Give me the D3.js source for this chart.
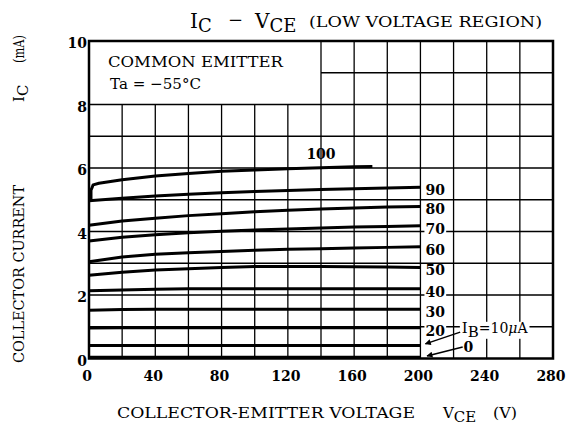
<!DOCTYPE html>
<html>
<head>
<meta charset="utf-8">
<script src="https://cdn.jsdelivr.net/npm/d3@7"></script>
<style>
  body { margin: 0; background: #fff; }
  text { font-family: "DejaVu Serif", serif; fill: #000; }
</style>
</head>
<body>
<svg id="chart"></svg>
<script>
const w = 576,
  h = 427,
  p = { left: 89, right: 23, top: 41, bottom: 68.5 };

// data
const vceSteps = [0, 20, 40, 60, 80, 100, 120, 140, 160, 180, 200];
const ib0 = [0.04, 0.04, 0.04, 0.04, 0.04, 0.04, 0.04, 0.04, 0.04, 0.04, 0.04];
const ib10 = [0.41, 0.41, 0.41, 0.41, 0.41, 0.41, 0.41, 0.41, 0.41, 0.41, 0.41];
const ib20 = [0.96, 0.97, 0.97, 0.97, 0.97, 0.97, 0.97, 0.97, 0.97, 0.97, 0.97];
const ib30 = [1.52, 1.54, 1.55, 1.55, 1.55, 1.55, 1.55, 1.55, 1.55, 1.55, 1.55];
const ib40 = [2.13, 2.16, 2.18, 2.2, 2.2, 2.2, 2.2, 2.2, 2.2, 2.2, 2.2];
const ib50 = [2.62, 2.72, 2.79, 2.83, 2.87, 2.9, 2.9, 2.9, 2.89, 2.88, 2.87];
const ib60 = [3.05, 3.2, 3.28, 3.33, 3.37, 3.41, 3.44, 3.46, 3.48, 3.5, 3.52];
const ib70 = [3.7, 3.82, 3.9, 3.96, 4.01, 4.05, 4.08, 4.11, 4.14, 4.16, 4.18];
const ib80 = [4.2, 4.33, 4.42, 4.5, 4.56, 4.62, 4.67, 4.71, 4.74, 4.77, 4.79];
const ib90 = [4.97, 5.05, 5.12, 5.17, 5.22, 5.26, 5.29, 5.32, 5.35, 5.37, 5.39];
const vce100 = [1.2, 1.2, 2.5, 6, 20, 40, 60, 80, 100, 120, 140, 160, 171];
const ib100 = [4.97, 5.3, 5.47, 5.52, 5.63, 5.75, 5.83, 5.9, 5.94, 5.98, 6.01, 6.04, 6.05];
const ibLabels = ["0", "10", "20", "30", "40", "50", "60", "70", "80", "90", "100"];
const xTicks = [0, 40, 80, 120, 160, 200, 240, 280];
const yTicks = [0, 2, 4, 6, 8, 10];

const series = [ib0, ib10, ib20, ib30, ib40, ib50, ib60, ib70, ib80, ib90]
  .map((vals, i) => ({ label: ibLabels[i], pts: vals.map((v, j) => [vceSteps[j], v]) }));
series.push({ label: ibLabels[10], pts: ib100.map((v, j) => [vce100[j], v]) });

const x = d3.scaleLinear().domain([0, 280]).range([p.left, w - p.right]);
const y = d3.scaleLinear().domain([0, 10]).range([h - p.bottom, p.top]);

const svg = d3.select("#chart")
  .attr("width", w)
  .attr("height", h)
  .attr("viewBox", [0, 0, w, h]);

// grid, with the blank box in the top left corner (0-140 V, 8-10 mA)
const grid = svg.append("g").attr("stroke", "#000").attr("stroke-width", 1.3);
grid.selectAll(".vg")
  .data(d3.range(20, 280, 20))
  .join("line")
  .attr("x1", d => x(d)).attr("x2", d => x(d))
  .attr("y1", y(0))
  .attr("y2", d => d < 140 ? y(8) : y(10));
grid.selectAll(".hg")
  .data(d3.range(1, 10))
  .join("line")
  .attr("y1", d => y(d)).attr("y2", d => y(d))
  .attr("x1", d => d > 8 ? x(140) : x(0))
  .attr("x2", x(280));

// curves
const line = d3.line().x(d => x(d[0])).y(d => y(d[1]));
svg.append("g")
  .selectAll("path")
  .data(series)
  .join("path")
  .attr("d", d => line(d.pts))
  .attr("fill", "none")
  .attr("stroke", "#000")
  .attr("stroke-width", 3)
  .attr("stroke-linejoin", "round");

// frame
svg.append("rect")
  .attr("x", x(0)).attr("y", y(10))
  .attr("width", x(280) - x(0)).attr("height", y(0) - y(10))
  .attr("fill", "none").attr("stroke", "#000").attr("stroke-width", 2.5);

// curve labels on the right, knocked out of the grid
const lab = svg.append("g").attr("font-size", 14).attr("font-weight", "bold");
const addLabel = (g, txt, tx, ty) => {
  const t = g.append("text").attr("x", tx).attr("y", ty).text(txt);
  const b = t.node().getBBox();
  g.insert("rect", "text:last-of-type")
    .attr("x", b.x - 1).attr("y", b.y + 2)
    .attr("width", b.width + 2).attr("height", b.height - 4)
    .attr("fill", "#fff");
  return t;
};
series.slice(2, 10).forEach(s => {
  const last = s.pts[s.pts.length - 1];
  addLabel(lab, s.label, x(200) + 5, y(last[1]) + 8);
});
const topEnd = series[10].pts[series[10].pts.length - 1];
lab.append("text")
  .attr("x", x(140)).attr("y", y(topEnd[1]) - 7)
  .attr("text-anchor", "middle")
  .text(ibLabels[10]);

// IB = 10 uA and 0 with arrows
const ibT = lab.append("text").attr("x", x(225)).attr("y", y(0.81));
ibT.append("tspan").attr("font-weight", "normal").attr("font-size", 15).text("I");
ibT.append("tspan").attr("font-weight", "normal").attr("font-size", 15).attr("dy", 4).text("B");
ibT.append("tspan").attr("font-weight", "normal").attr("dy", -4).text("=" + ibLabels[1]);
ibT.append("tspan").attr("font-weight", "normal").attr("font-style", "italic").text("\u03bc");
ibT.append("tspan").attr("font-weight", "normal").text("A");
const bb = ibT.node().getBBox();
lab.insert("rect", "text:last-of-type")
  .attr("x", bb.x - 2).attr("y", bb.y + 3)
  .attr("width", bb.width + 3).attr("height", bb.height - 5)
  .attr("fill", "#fff");
addLabel(lab, ibLabels[0], x(226), y(0.2));

svg.append("defs").append("marker")
  .attr("id", "arr")
  .attr("viewBox", "0 0 10 10")
  .attr("refX", 9).attr("refY", 5)
  .attr("markerWidth", 9).attr("markerHeight", 6)
  .attr("markerUnits", "userSpaceOnUse")
  .attr("orient", "auto")
  .append("path").attr("d", "M0,0L10,5L0,10Z").attr("fill", "#000");
const arrows = [[[224, 0.83], [203, 0.46]], [[225.5, 0.36], [204, 0.08]]];
svg.append("g")
  .selectAll("line")
  .data(arrows)
  .join("line")
  .attr("x1", d => x(d[0][0])).attr("y1", d => y(d[0][1]))
  .attr("x2", d => x(d[1][0])).attr("y2", d => y(d[1][1]))
  .attr("stroke", "#000").attr("stroke-width", 1.5)
  .attr("marker-end", "url(#arr)");

// axes tick labels
svg.append("g")
  .attr("font-size", 14).attr("font-weight", "bold").attr("text-anchor", "middle")
  .selectAll("text")
  .data(xTicks)
  .join("text")
  .attr("x", d => x(d) - 2)
  .attr("y", y(0) + 22)
  .text(d => d);
svg.append("g")
  .attr("font-size", 14).attr("font-weight", "bold").attr("text-anchor", "end")
  .selectAll("text")
  .data(yTicks)
  .join("text")
  .attr("x", x(0) - 2)
  .attr("y", d => y(d) + 7)
  .text(d => d);

// box text
const box = svg.append("g").attr("font-size", 15);
box.append("text").attr("x", 108).attr("y", 67)
  .attr("textLength", 175).attr("lengthAdjust", "spacingAndGlyphs")
  .text("COMMON EMITTER");
box.append("text").attr("x", 110).attr("y", 89)
  .attr("textLength", 91).attr("lengthAdjust", "spacingAndGlyphs")
  .text("Ta = \u221255\u00b0C");

// title
const ttl = svg.append("g");
const t1 = ttl.append("text").attr("x", 190).attr("y", 28).attr("font-size", 20);
t1.append("tspan").text("I");
t1.append("tspan").attr("dy", 4).attr("font-size", 18).text("C");
ttl.append("text").attr("x", 228).attr("y", 26).attr("font-size", 18).text("\u2212");
const t2 = ttl.append("text").attr("x", 255).attr("y", 28).attr("font-size", 20);
t2.append("tspan").text("V");
t2.append("tspan").attr("dy", 4).attr("font-size", 18).text("CE");
ttl.append("text").attr("x", 309).attr("y", 27).attr("font-size", 15)
  .attr("textLength", 233).attr("lengthAdjust", "spacingAndGlyphs")
  .text("(LOW VOLTAGE REGION)");

// x axis title
const xt = svg.append("g").attr("font-size", 15);
xt.append("text").attr("x", 117).attr("y", 418)
  .attr("textLength", 298).attr("lengthAdjust", "spacingAndGlyphs")
  .text("COLLECTOR-EMITTER VOLTAGE");
const xv = xt.append("text").attr("x", 443).attr("y", 418);
xv.append("tspan").text("V");
xv.append("tspan").attr("dy", 4).text("CE");
xt.append("text").attr("x", 493).attr("y", 418)
  .attr("textLength", 24).attr("lengthAdjust", "spacingAndGlyphs").text("(V)");

// y axis title
const yt = svg.append("g").attr("font-size", 15).attr("transform", "translate(24,0) rotate(-90)");
yt.append("text").attr("x", -363).attr("y", 0)
  .attr("textLength", 178).attr("lengthAdjust", "spacingAndGlyphs")
  .text("COLLECTOR CURRENT");
const yi = yt.append("text").attr("x", -102).attr("y", 0);
yi.append("tspan").text("I");
yi.append("tspan").attr("dy", 4).text("C");
yt.append("text").attr("x", -63).attr("y", 0)
  .attr("textLength", 28).attr("lengthAdjust", "spacingAndGlyphs").text("(mA)");
</script>
</body>
</html>
